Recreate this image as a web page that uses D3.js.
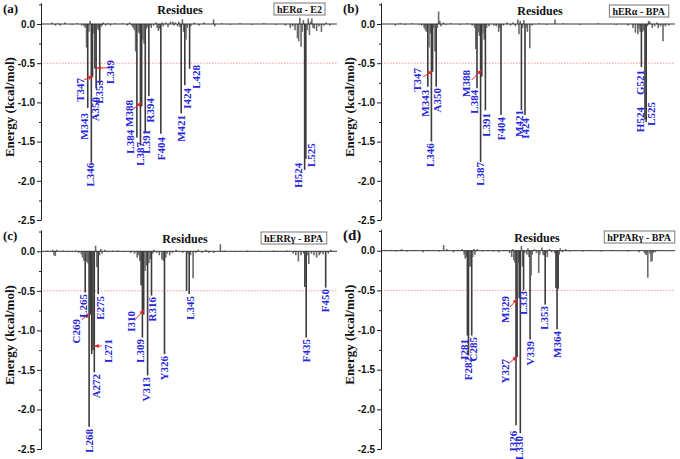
<!DOCTYPE html>
<html><head><meta charset="utf-8">
<script src="https://cdn.jsdelivr.net/npm/d3@7/dist/d3.min.js"></script>
<style>body{margin:0;background:#fff}svg{display:block}</style>
</head><body><svg id="c" width="680" height="459"></svg>
<script>
// ---------- DATA: [residue, energy kcal/mol] ----------
const barsA = [[313,0.02],[316,-0.02],[318,0.01],[320,-0.02],[324,0.02],[330,-0.01],[334,0.01],[338,-0.02],
[340,-0.03],[341,-0.05],[342,-0.3],[343,-1.07],[344,-0.1],[345,0.04],[346,-1.77],[347,-0.68],[348,-0.12],[349,-0.57],[350,-0.82],[351,-0.06],[352,-0.08],[353,-0.78],[354,-0.04],[355,-0.02],[356,0.02],
[358,-0.02],[360,0.01],[362,-0.02],[366,0.01],[372,0.01],[376,-0.02],[378,0.02],
[380,-0.03],[381,-0.05],[382,-0.08],[383,-0.35],[384,-1.45],[385,-0.1],[386,-0.12],[387,-1.55],[388,-1.05],[389,-0.2],[390,-0.25],[391,-1.38],[392,-0.06],[393,-0.04],[394,-0.92],[395,-0.02],[396,-0.05],
[398,-0.02],[400,0.02],[401,-0.05],[402,-0.09],[403,-0.06],[404,-1.4],[405,0.02],[406,-0.03],[408,0.02],[410,-0.04],[412,0.03],[414,0.03],[415,-0.02],[416,0.02],[418,-0.03],[419,0.03],[420,-0.04],
[421,-1.14],[422,0.06],[423,-0.1],[424,-0.78],[425,-0.2],[426,-0.05],[428,-0.57],[429,-0.03],[432,0.02],[436,-0.02],[440,0.02],[448,0.06],[449,-0.03],[455,0.01],[462,-0.01],[470,0.01],[480,-0.01],[490,0.01],[500,-0.01],
[508,-0.02],[512,-0.05],[514,-0.03],[516,-0.08],[518,-0.18],[519,-0.22],[520,0.08],[521,-0.29],[522,-0.1],[523,0.05],[524,-1.86],[525,-1.72],[526,-0.08],[527,0.07],[528,-0.14],[529,0.03],[530,0.07],[531,-0.05],[532,-0.06],[534,-0.09],[536,-0.03],[538,-0.1],[540,-0.02],[542,0.02],[545,-0.02]];

const barsB = [[316,-0.02],[320,0.01],[324,-0.01],[330,0.01],[336,-0.01],[338,-0.02],[340,-0.05],[341,-0.08],[342,-0.1],[343,-0.8],[344,-0.3],[345,-0.12],[346,-1.5],[347,-0.61],[348,-0.05],[349,-0.35],[350,-0.8],[351,-0.05],[352,0.16],[353,0.04],[354,-0.03],[356,0.02],[358,-0.01],[362,0.01],[370,-0.01],[376,0.01],
[380,-0.02],[382,-0.05],[383,-0.32],[384,-0.82],[385,-0.1],[386,-0.15],[387,-1.76],[388,-0.67],[389,-0.12],[390,-0.2],[391,-1.1],[392,-0.05],[394,-0.03],[398,-0.02],[400,-0.03],[402,-0.1],[403,-0.05],[404,-1.16],[406,-0.02],[409,0.02],[412,-0.02],[414,0.02],[416,-0.03],[418,0.06],[419,-0.13],[420,0.04],[421,-1.1],[422,-0.05],[423,0.05],[424,-1.16],[425,-0.05],[426,-0.1],[428,-0.31],[430,-0.02],[436,0.01],[442,-0.01],[449,0.06],[456,0.01],[470,-0.01],[485,0.01],[500,-0.01],
[510,-0.02],[514,-0.05],[516,-0.11],[518,-0.13],[519,-0.06],[520,-0.1],[521,-0.55],[522,-0.1],[523,-0.08],[524,-1.22],[525,-1.25],[526,-0.03],[527,0.04],[528,0.03],[530,-0.05],[532,-0.03],[534,0.02],[535,-0.05],[537,-0.03],[539,-0.22],[541,-0.03],[544,-0.02]];

const barsC = [[236,0.01],[240,0.02],[241,-0.05],[242,-0.06],[243,0.02],[248,0.01],[252,-0.01],[255,-0.01],[258,0.01],[260,-0.02],[262,-0.04],[263,-0.08],[264,-0.12],[265,-0.52],[266,-0.13],[267,-0.15],[268,-2.22],[269,-0.8],[270,-1.3],[271,-1.25],[272,-1.53],[273,0.07],[274,-0.2],[275,-0.54],[276,-0.05],[277,0.03],[278,-0.03],[280,0.02],[282,-0.01],[286,0.01],[290,0.01],[295,-0.01],
[300,-0.02],[303,-0.03],[305,-0.08],[306,-0.05],[307,-0.12],[308,-0.43],[309,-1.09],[310,-0.8],[311,-0.25],[312,-0.18],[313,-1.57],[314,-0.15],[315,-0.1],[316,-0.56],[317,-0.03],[318,0.02],[320,-0.02],[322,-0.05],[324,-0.1],[325,-0.12],[326,-1.3],[327,-0.08],[328,-0.03],[330,-0.05],[332,-0.02],[335,0.02],[340,-0.02],[343,-0.5],[344,-0.03],[345,-0.54],[346,-0.05],[348,-0.34],[350,-0.02],[352,0.02],[355,-0.02],[358,0.02],[360,-0.02],[364,-0.02],[369,0.09],[372,0.01],[380,-0.01],[390,0.01],[400,-0.01],[410,0.01],
[420,0.01],[425,-0.03],[427,-0.05],[429,-0.13],[431,-0.05],[433,-0.03],[434,-0.45],[435,-1.09],[436,-0.05],[437,-0.16],[439,-0.03],[441,-0.05],[443,-0.08],[445,-0.05],[446,-0.03],[448,-0.04],[450,-0.46],[452,-0.03],[454,0.02]];

const barsD = [[205,0.01],[210,0.01],[215,-0.01],[220,0.02],[225,-0.01],[232,0.01],[240,-0.02],[245,0.01],[250,0.01],[255,-0.01],[259,0.07],[262,0.02],[268,-0.02],[272,0.01],[276,0.02],[278,-0.05],[279,-0.1],[280,-0.08],[281,-1.07],[282,-1.32],[283,-0.2],[284,-0.2],[285,-1.07],[286,-0.08],[287,0.02],[288,-0.05],[290,0.02],[295,-0.01],[300,0.01],[305,-0.01],[310,-0.02],[315,0.01],
[320,-0.03],[322,-0.08],[323,0.02],[324,-0.12],[325,-0.15],[326,-2.2],[327,-1.34],[328,-0.15],[329,-0.6],[330,-2.3],[331,0.06],[332,-0.2],[333,-0.5],[334,-0.03],[336,-0.05],[337,0.03],[338,-0.08],[339,-1.12],[340,-0.31],[341,-0.05],[343,0.02],[345,-0.03],[347,-0.28],[348,-0.05],[350,0.04],[351,-0.05],[352,-0.06],[353,-0.68],[354,-0.03],[355,-0.08],[357,0.02],[359,-0.02],[362,-0.03],[363,-0.47],[364,-0.99],[365,-0.48],[366,-0.05],[367,0.03],[369,-0.02],[372,0.02],[376,-0.01],[380,0.01],[388,-0.01],[395,0.01],[405,-0.01],[415,0.01],[430,-0.01],
[440,-0.02],[445,-0.03],[446,-0.05],[447,-0.05],[448,-0.34],[450,-0.04],[451,-0.14],[452,-0.13],[453,-0.03],[455,-0.02],[458,0.01]];

// residue labels: [text, residue position, energy at label top]
const labelsA = [["T347",336.5,-0.69],["M343",339.8,-1.135],["L346",344.8,-1.77],["A350",349.4,-0.93],["E353",352.75,-0.714],["L349",361.9,-0.46],
["M388",377.75,-0.97],["L384",378.6,-1.35],["L387",386.5,-1.505],["L391",391.5,-1.35],["R394",394.8,-0.944],["F404",404,-1.44],["M421",420.7,-1.16],["I424",425.7,-0.816],["L428",433.2,-0.523],["H524",518.6,-1.77],["L525",529.4,-1.52]];
const labelsB = [["T347",334,-0.56],["M343",340.7,-0.84],["A350",351.1,-0.816],["L346",345.25,-1.52],["M388",375.25,-0.587],["L384",381.5,-0.84],["L387",386.5,-1.76],["L391",391.9,-1.135],["F404",404,-1.186],["M421",419,-1.097],["I424",424.4,-1.2],["G521",520.25,-0.587],["H524",520.25,-1.06],["L525",529.4,-0.995]];
const labelsC = [["C269",258.3,-0.856],["L265",263.7,-0.54],["E275",276.8,-0.565],["L271",282.5,-1.109],["A272",273.7,-1.55],["L268",267.9,-2.247],["I310",300.6,-0.755],["L309",307.2,-1.109],["V313",312.2,-1.589],["R316",316.4,-0.578],["Y326",325.6,-1.324],["L345",345.6,-0.565],["F435",435.2,-1.109],["F450",449.8,-0.477]];
const labelsD = [["I281",277.9,-1.113],["F282",282,-1.34],["C285",286.6,-1.088],["M329",315.8,-0.571],["L333",332.5,-0.508],["Y327",315.8,-1.366],["I326",323.2,-2.27],["L330",329.2,-2.337],["V339",339,-1.139],["L353",351.9,-0.697],["M364",364.4,-1.013]];

// red pointer arrows: [from residue, from energy, to residue, to energy]
const arrowsA = [[339.8,-0.714,347.25,-0.663],[359.8,-0.56,350.7,-0.56],[379.8,-1.097,387.9,-1.004]];
const arrowsB = [[339.25,-0.672,347.1,-0.6],[379.6,-0.714,387.9,-0.587]];
const arrowsC = [[262.3,-0.865,268.2,-0.793],[277.7,-1.197,272,-1.197],[303.3,-0.865,310.2,-0.742]];
const arrowsD = [[320.4,-0.71,327.2,-0.609],[318.9,-1.429,326.6,-1.332]];

const yTicks = [0, -0.5, -1.0, -1.5, -2.0, -2.5];
const yMinor = [0.25, -0.25, -0.75, -1.25, -1.75, -2.25];
const cutoff = -0.5;

const panels = [
  {tag:"(a)", sys:"hER\u03b1 - E2", bars:barsA, labels:labelsA, arrows:arrowsA, res:[304,551], x0:41, x1:337, y0:24, yb:220, tagX:3, tagY:13, tagSize:13, titleX:180, titleY:14, boxR:325, boxY:3},
  {tag:"(b)", sys:"hER\u03b1 - BPA", bars:barsB, labels:labelsB, arrows:arrowsB, res:[304,549], x0:381, x1:675, y0:24, yb:220, tagX:343, tagY:13, tagSize:13, titleX:540, titleY:15, boxR:668, boxY:5},
  {tag:"(c)", sys:"hERR\u03b3 - BPA", bars:barsC, labels:labelsC, arrows:arrowsC, res:[231,458.7], x0:41, x1:337, y0:251.3, yb:449, tagX:3, tagY:240, tagSize:13, titleX:185, titleY:243, boxR:326, boxY:232},
  {tag:"(d)", sys:"hPPAR\u03b3 - BPA", bars:barsD, labels:labelsD, arrows:arrowsD, res:[201,473.2], x0:381, x1:675, y0:250.7, yb:449, tagX:343, tagY:240, tagSize:15, titleX:537, titleY:242, boxR:674, boxY:231}
];

const svg = d3.select("#c");
svg.append("rect").attr("width",680).attr("height",459).attr("fill","#fff");
const defs = svg.append("defs");
defs.append("marker").attr("id","arr").attr("viewBox","0 0 10 10").attr("refX",9).attr("refY",5)
  .attr("markerWidth",5).attr("markerHeight",5).attr("orient","auto")
  .append("path").attr("d","M0,1 L10,5 L0,9 z").attr("fill","#e8262a");

const serif = "'Liberation Serif','Times New Roman',serif";
const sans = "'Liberation Sans',Arial,sans-serif";

panels.forEach(p => {
  const k = (p.yb - p.y0) / 2.5;
  const y = d3.scaleLinear().domain([-2.5, 0.27]).range([p.yb, p.y0 - 0.27 * k]);
  const x = d3.scaleLinear().domain(p.res).range([p.x0, p.x1]);
  const g = svg.append("g");

  g.append("line").attr("x1",p.x0).attr("x2",p.x1).attr("y1",y(cutoff)).attr("y2",y(cutoff))
    .attr("stroke","#f19a9a").attr("stroke-width",1).attr("stroke-dasharray","1.5,1.5");

  g.selectAll("rect.bar").data(p.bars).join("rect").attr("class","bar")
    .attr("x", d => x(d[0]) - 0.8).attr("width", 1.6)
    .attr("y", d => Math.min(y(0), y(d[1]))).attr("height", d => Math.abs(y(d[1]) - y(0)))
    .attr("fill", d => Math.abs(d[1]) > 0.4 ? "#3c3c3c" : "#6a6a6a");

  g.append("line").attr("x1",p.x0).attr("x2",p.x1).attr("y1",y(0)).attr("y2",y(0))
    .attr("stroke","#333").attr("stroke-width",1);

  const ax = g.append("g").attr("transform",`translate(${p.x0},0)`)
    .call(d3.axisLeft(y).tickValues(yTicks).tickFormat(d => d.toFixed(1)).tickSize(4).tickSizeOuter(0).tickPadding(2));
  ax.select(".domain").attr("stroke","#222");
  ax.selectAll(".tick line").attr("stroke","#222");
  ax.selectAll("text").attr("font-family",sans).attr("font-weight","bold").attr("font-size",10).attr("fill","#111");
  const axm = g.append("g").attr("transform",`translate(${p.x0},0)`)
    .call(d3.axisLeft(y).tickValues(yMinor).tickFormat("").tickSize(2));
  axm.select(".domain").remove();
  axm.selectAll(".tick line").attr("stroke","#222");

  g.append("text").attr("transform",`translate(${p.x0 - 27},${y(-1.06)}) rotate(-90)`)
    .attr("text-anchor","middle").attr("font-family",serif).attr("font-weight","bold").attr("font-size",13)
    .attr("fill","#111").text("Energy (kcal/mol)");

  g.append("text").attr("x",p.tagX).attr("y",p.tagY).attr("font-family",serif).attr("font-weight","bold")
    .attr("font-size",p.tagSize).attr("fill","#111").text(p.tag);
  g.append("text").attr("x",p.titleX).attr("y",p.titleY).attr("text-anchor","middle").attr("font-family",serif)
    .attr("font-weight","bold").attr("font-size",12).attr("fill","#111").text("Residues");

  const boxG = g.append("g");
  const br = boxG.append("rect");
  const bt = boxG.append("text").attr("x",p.boxR - 3).attr("y",p.boxY + 9.5).attr("text-anchor","end")
    .attr("font-family",serif).attr("font-weight","bold").attr("font-size",10).attr("fill","#111").text(p.sys);
  const bb = bt.node().getBBox();
  br.attr("x",bb.x - 3).attr("y",p.boxY).attr("width",bb.width + 6).attr("height",12)
    .attr("fill","#fff").attr("stroke","#777").attr("stroke-width",1);

  g.selectAll("line.arr").data(p.arrows).join("line").attr("class","arr")
    .attr("x1",d=>x(d[0])).attr("y1",d=>y(d[1])).attr("x2",d=>x(d[2])).attr("y2",d=>y(d[3]))
    .attr("stroke","#e8262a").attr("stroke-width",1).attr("marker-end","url(#arr)");

  g.selectAll("text.lab").data(p.labels).join("text").attr("class","lab")
    .attr("transform", d => `translate(${x(d[1])},${y(d[2])}) rotate(-90)`)
    .attr("text-anchor","end").attr("dy","0.35em")
    .attr("font-family",serif).attr("font-weight","bold").attr("font-size",11).attr("fill","#2626d9")
    .text(d => d[0]);
});
</script></body></html>
